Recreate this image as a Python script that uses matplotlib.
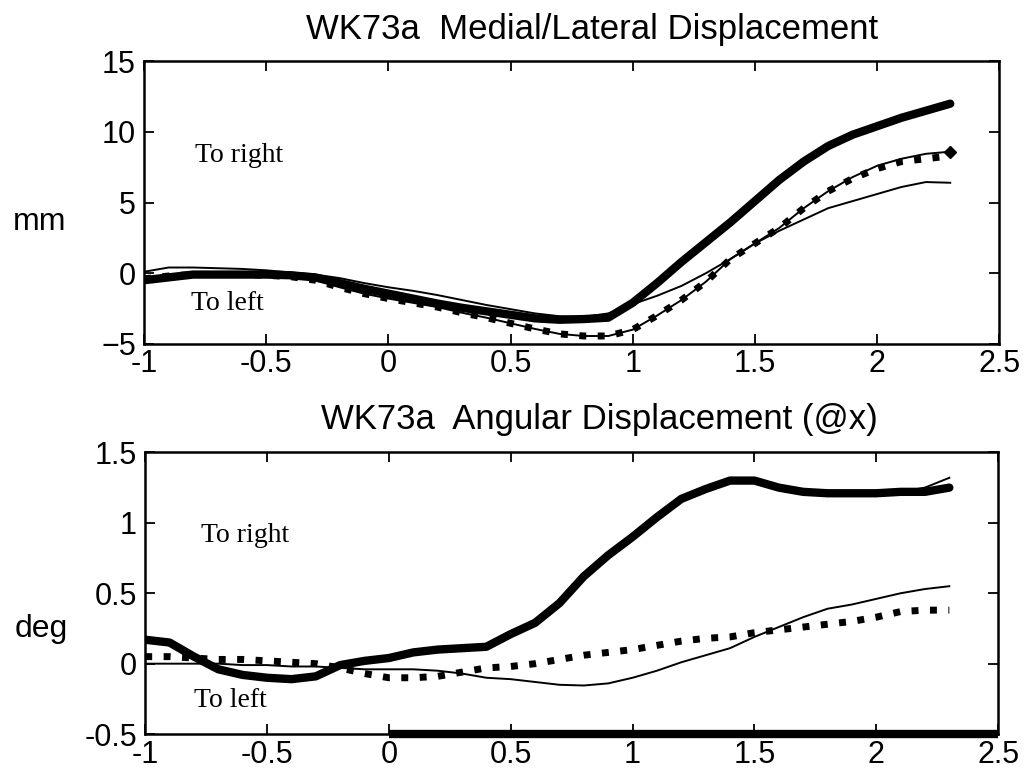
import numpy as np
import matplotlib.pyplot as plt

plt.rcParams['font.family'] = ['Liberation Sans', 'DejaVu Sans']

# time axis shared by every trace (s)
t = [-1.0, -0.9, -0.8, -0.7, -0.6, -0.5, -0.4, -0.3, -0.2, -0.1, 0.0,
     0.1, 0.2, 0.3, 0.4, 0.5, 0.6, 0.7, 0.8, 0.9, 1.0, 1.1, 1.2, 1.3,
     1.4, 1.5, 1.6, 1.7, 1.8, 1.9, 2.0, 2.1, 2.2, 2.3]

# medial/lateral displacement (mm)
ml_meas = [-0.5, -0.3, -0.1, -0.1, -0.1, -0.1, -0.15, -0.3, -0.7, -1.1, -1.45,
           -1.8, -2.15, -2.45, -2.7, -2.95, -3.2, -3.3, -3.25, -3.15, -2.1, -0.7, 0.8, 2.2,
           3.6, 5.1, 6.6, 7.9, 9.0, 9.8, 10.4, 11.0, 11.5, 12.0]
ml_fit = [-0.3, -0.2, -0.05, 0.0, 0.0, -0.05, -0.15, -0.3, -0.7, -1.1, -1.45,
          -1.8, -2.15, -2.45, -2.7, -2.95, -3.2, -3.3, -3.25, -3.1, -2.1, -0.7, 0.8, 2.2,
          3.6, 5.1, 6.6, 7.9, 9.0, 9.8, 10.5, 11.1, 11.6, 12.1]
ml_dot = [-0.4, -0.2, -0.1, -0.1, -0.1, -0.15, -0.25, -0.5, -1.0, -1.45, -1.8,
          -2.1, -2.4, -2.8, -3.15, -3.55, -3.95, -4.3, -4.45, -4.45, -4.0, -3.0, -1.9, -0.6,
          1.0, 2.1, 3.2, 4.6, 5.8, 6.7, 7.4, 7.9, 8.1, 8.3]
ml_dot_fit = [-0.4, -0.2, -0.1, -0.1, -0.1, -0.15, -0.25, -0.5, -1.0, -1.45, -1.8,
              -2.1, -2.4, -2.8, -3.15, -3.55, -3.95, -4.3, -4.45, -4.45, -4.0, -3.0, -1.9, -0.6,
              1.0, 2.1, 3.2, 4.6, 5.8, 6.8, 7.6, 8.1, 8.45, 8.6]
ml_thin = [0.1, 0.4, 0.4, 0.35, 0.3, 0.2, 0.05, -0.1, -0.35, -0.7, -1.0,
           -1.25, -1.55, -1.9, -2.25, -2.55, -2.85, -3.05, -3.1, -2.85, -2.2, -1.6, -0.9, 0.0,
           1.0, 2.1, 3.0, 3.8, 4.6, 5.1, 5.6, 6.1, 6.45, 6.4]

# angular displacement about x (deg)
ang_meas = [0.17, 0.15, 0.05, -0.04, -0.08, -0.10, -0.11, -0.09, -0.01, 0.02, 0.04,
            0.08, 0.10, 0.11, 0.12, 0.21, 0.29, 0.43, 0.62, 0.77, 0.90, 1.04, 1.17, 1.24,
            1.30, 1.30, 1.25, 1.22, 1.21, 1.21, 1.21, 1.22, 1.22, 1.25]
ang_fit = [0.17, 0.15, 0.05, -0.04, -0.08, -0.10, -0.11, -0.09, -0.01, 0.02, 0.04,
           0.08, 0.10, 0.11, 0.12, 0.21, 0.29, 0.43, 0.62, 0.77, 0.90, 1.04, 1.17, 1.24,
           1.30, 1.30, 1.25, 1.22, 1.21, 1.21, 1.21, 1.22, 1.25, 1.32]
ang_dot = [0.05, 0.05, 0.04, 0.03, 0.03, 0.02, 0.01, 0.0, -0.03, -0.07, -0.10,
           -0.10, -0.09, -0.06, -0.03, -0.02, 0.0, 0.03, 0.06, 0.08, 0.10, 0.13, 0.16, 0.18,
           0.19, 0.22, 0.24, 0.26, 0.28, 0.30, 0.33, 0.37, 0.38, 0.38]
ang_thin = [0.0, 0.0, 0.0, 0.0, -0.01, -0.01, -0.02, -0.02, -0.03, -0.04, -0.04,
            -0.04, -0.05, -0.07, -0.10, -0.11, -0.13, -0.15, -0.155, -0.14, -0.10, -0.05, 0.01, 0.06,
            0.11, 0.19, 0.26, 0.33, 0.39, 0.42, 0.46, 0.50, 0.53, 0.55]
floor_t = [0.0, 2.5]
floor_v = [-0.5, -0.5]

xticks = [-1, -0.5, 0, 0.5, 1, 1.5, 2, 2.5]
xticklabels = ['-1', '-0.5', '0', '0.5', '1', '1.5', '2', '2.5']

fig = plt.figure(figsize=(10.3, 7.76), dpi=100)
ax1 = fig.add_axes([0.140, 0.557, 0.830, 0.364])
ax2 = fig.add_axes([0.141, 0.054, 0.828, 0.363])


def style(ax):
    ax.set_xlim(-1, 2.5)
    ax.set_xticks(xticks)
    ax.set_xticklabels(xticklabels)
    ax.tick_params(direction='in', length=7, width=1.3, top=True, right=True,
                   labelsize=22, pad=4)
    ax.tick_params(axis='y', pad=6)
    for s in ax.spines.values():
        s.set_linewidth(1.8)


thick = dict(color='black', lw=6, solid_capstyle='round')
thin = dict(color='black', lw=1.4)
dots = dict(color='black', lw=5, ls=':', dash_capstyle='butt')

# top panel
ax1.plot(t, ml_meas, **thick)
ax1.plot(t, ml_fit, **thin)
ax1.plot(t, ml_dot, **dots)
ax1.plot(t, ml_dot_fit, marker='D', markersize=6, markevery=[-1], **thin)
ax1.plot(t, ml_thin, **thin)
style(ax1)
ax1.set_ylim(-5, 15)
ax1.set_yticks([-5, 0, 5, 10, 15])
ax1.text(-0.79, 8.3, 'To right', family='Liberation Serif', fontsize=20, va='center')
ax1.text(-0.81, -2.15, 'To left', family='Liberation Serif', fontsize=20, va='center')
fig.text(0.038, 0.714, 'mm', fontsize=23, ha='center', va='center')
fig.text(0.575, 0.962, 'WK73a  Medial/Lateral Displacement', fontsize=25,
         ha='center', va='center')

# bottom panel
ax2.plot(t, ang_meas, **thick)
ax2.plot(t, ang_fit, **thin)
ax2.plot(t, ang_dot, **dots)
ax2.plot(t, ang_thin, **thin)
ax2.plot(floor_t, floor_v, color='black', lw=6, clip_on=False, solid_capstyle='butt')
style(ax2)
ax2.set_ylim(-0.5, 1.5)
ax2.set_yticks([-0.5, 0, 0.5, 1, 1.5])
ax2.set_yticklabels(['-0.5', '0', '0.5', '1', '1.5'])
ax2.text(-0.77, 0.91, 'To right', family='Liberation Serif', fontsize=20, va='center')
ax2.text(-0.80, -0.26, 'To left', family='Liberation Serif', fontsize=20, va='center')
fig.text(0.040, 0.190, 'deg', fontsize=23, ha='center', va='center')
fig.text(0.582, 0.459, 'WK73a  Angular Displacement (@x)', fontsize=25,
         ha='center', va='center')

fig.savefig('out.png', dpi=100)
